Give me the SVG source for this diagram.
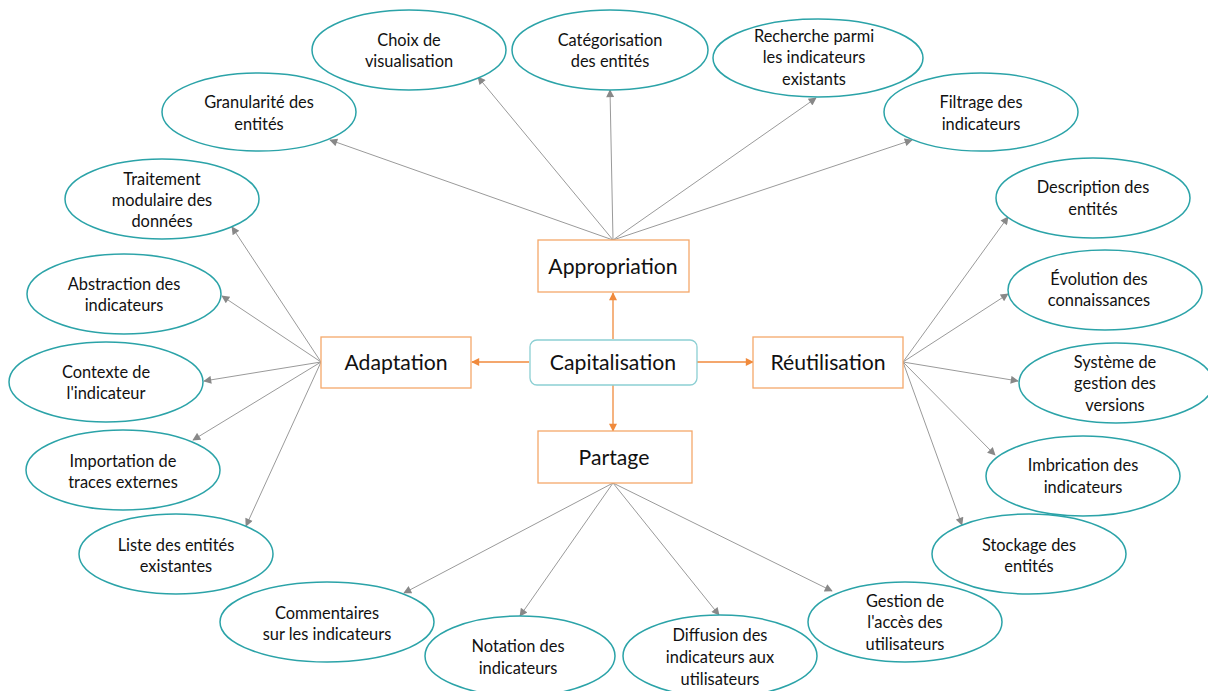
<svg xmlns="http://www.w3.org/2000/svg" width="1208" height="691" viewBox="0 0 1208 691">
<defs>
<style>
.e{fill:#fff;stroke:#2ba3a8;stroke-width:1.5}
.r{fill:#fff;stroke:#f5a86a;stroke-width:1.3}
.t{font-family:Lato,"Liberation Sans",sans-serif;font-size:16.4px;fill:#111;text-anchor:middle}
.T{font-family:Lato,"Liberation Sans",sans-serif;font-size:21.2px;fill:#111;text-anchor:middle}
.g{stroke:#9a9a9a;stroke-width:1;fill:none;marker-end:url(#ag)}
.o{stroke:#f08a3c;stroke-width:1.3;fill:none;marker-end:url(#ao)}
</style>
<marker id="ag" viewBox="0 0 10 10" refX="9" refY="5" markerWidth="10" markerHeight="8" markerUnits="userSpaceOnUse" orient="auto"><path d="M0,0L10,5L0,10z" fill="#888"/></marker>
<marker id="ao" viewBox="0 0 10 10" refX="9" refY="5" markerWidth="9" markerHeight="8" markerUnits="userSpaceOnUse" orient="auto"><path d="M0,0L10,5L0,10z" fill="#f08a3c"/></marker>
</defs>
<rect width="1208" height="691" fill="#fff"/>
<g id="connectors">
<line class="o" x1="613" y1="339" x2="613" y2="293"/>
<line class="o" x1="529" y1="362" x2="472" y2="362"/>
<line class="o" x1="697" y1="362" x2="753" y2="362"/>
<line class="o" x1="613" y1="385" x2="613" y2="431"/>
<line class="g" x1="613" y1="240" x2="330" y2="140"/>
<line class="g" x1="613" y1="240" x2="478" y2="77"/>
<line class="g" x1="613" y1="240" x2="610" y2="90"/>
<line class="g" x1="613" y1="240" x2="816" y2="98"/>
<line class="g" x1="613" y1="240" x2="912" y2="140"/>
<line class="g" x1="321" y1="362" x2="232" y2="227"/>
<line class="g" x1="321" y1="362" x2="222" y2="296"/>
<line class="g" x1="321" y1="362" x2="204" y2="381"/>
<line class="g" x1="321" y1="362" x2="193" y2="440"/>
<line class="g" x1="321" y1="362" x2="246" y2="526"/>
<line class="g" x1="903" y1="362" x2="1008" y2="217"/>
<line class="g" x1="903" y1="362" x2="1008" y2="294"/>
<line class="g" x1="903" y1="362" x2="1018" y2="381"/>
<line class="g" x1="903" y1="362" x2="995" y2="455"/>
<line class="g" x1="903" y1="362" x2="962" y2="525"/>
<line class="g" x1="613" y1="483" x2="404" y2="593"/>
<line class="g" x1="613" y1="483" x2="520" y2="616"/>
<line class="g" x1="613" y1="483" x2="719" y2="615"/>
<line class="g" x1="613" y1="483" x2="832" y2="591"/>
</g>
<g id="appropriation"><rect class="r" x="538" y="240" width="151" height="52"/><text class="T" x="613" y="274">Appropriation</text></g>
<g id="capitalisation"><rect x="530" y="340" width="167" height="45" rx="7" fill="#fff" stroke="#8ccfd3" stroke-width="1.3"/><text class="T" x="613" y="370">Capitalisation</text></g>
<g id="partage"><rect class="r" x="538" y="431" width="154" height="52"/><text class="T" x="614" y="465">Partage</text></g>
<g id="adaptation"><rect class="r" x="321" y="337" width="150" height="51"/><text class="T" x="396" y="370">Adaptation</text></g>
<g id="reutilisation"><rect class="r" x="753" y="337" width="150" height="51"/><text class="T" x="828" y="370">Réutilisation</text></g>
<g id="choix"><ellipse class="e" cx="409" cy="50" rx="97" ry="40"/><text class="t" x="409" y="46">Choix de</text><text class="t" x="409" y="67">visualisation</text></g>
<g id="categorisation"><ellipse class="e" cx="610" cy="50" rx="98" ry="40"/><text class="t" x="610" y="46">Catégorisation</text><text class="t" x="610" y="67">des entités</text></g>
<g id="recherche"><ellipse class="e" cx="818" cy="58" rx="105" ry="39"/><text class="t" x="814" y="42">Recherche parmi</text><text class="t" x="814" y="63">les indicateurs</text><text class="t" x="814" y="85">existants</text></g>
<g id="filtrage"><ellipse class="e" cx="981" cy="112" rx="97" ry="39"/><text class="t" x="981" y="108">Filtrage des</text><text class="t" x="981" y="130">indicateurs</text></g>
<g id="granularite"><ellipse class="e" cx="259" cy="112" rx="97" ry="39"/><text class="t" x="259" y="108">Granularité des</text><text class="t" x="259" y="130">entités</text></g>
<g id="traitement"><ellipse class="e" cx="162" cy="199" rx="97" ry="40"/><text class="t" x="162" y="185">Traitement</text><text class="t" x="162" y="206">modulaire des</text><text class="t" x="162" y="227">données</text></g>
<g id="abstraction"><ellipse class="e" cx="124" cy="294" rx="97" ry="40"/><text class="t" x="124" y="290">Abstraction des</text><text class="t" x="124" y="311">indicateurs</text></g>
<g id="contexte"><ellipse class="e" cx="106" cy="382" rx="97" ry="40"/><text class="t" x="106" y="378">Contexte de</text><text class="t" x="106" y="399">l'indicateur</text></g>
<g id="importation"><ellipse class="e" cx="123" cy="470" rx="97" ry="40"/><text class="t" x="123" y="467">Importation de</text><text class="t" x="123" y="488">traces externes</text></g>
<g id="liste"><ellipse class="e" cx="176" cy="554" rx="97" ry="40"/><text class="t" x="176" y="551">Liste des entités</text><text class="t" x="176" y="572">existantes</text></g>
<g id="commentaires"><ellipse class="e" cx="327" cy="622" rx="107" ry="40"/><text class="t" x="327" y="619">Commentaires</text><text class="t" x="327" y="640">sur les indicateurs</text></g>
<g id="notation"><ellipse class="e" cx="520" cy="656" rx="95" ry="40"/><text class="t" x="518" y="652">Notation des</text><text class="t" x="518" y="674">indicateurs</text></g>
<g id="diffusion"><ellipse class="e" cx="720" cy="656" rx="97" ry="41"/><text class="t" x="720" y="641">Diffusion des</text><text class="t" x="720" y="663">indicateurs aux</text><text class="t" x="720" y="685">utilisateurs</text></g>
<g id="gestion"><ellipse class="e" cx="905" cy="622" rx="97" ry="40"/><text class="t" x="905" y="607">Gestion de</text><text class="t" x="905" y="628">l'accès des</text><text class="t" x="905" y="650">utilisateurs</text></g>
<g id="stockage"><ellipse class="e" cx="1029" cy="554" rx="97" ry="40"/><text class="t" x="1029" y="551">Stockage des</text><text class="t" x="1029" y="572">entités</text></g>
<g id="imbrication"><ellipse class="e" cx="1083" cy="476" rx="97" ry="40"/><text class="t" x="1083" y="471">Imbrication des</text><text class="t" x="1083" y="493">indicateurs</text></g>
<g id="systeme"><ellipse class="e" cx="1116" cy="383" rx="97" ry="40"/><text class="t" x="1115" y="368">Système de</text><text class="t" x="1115" y="389">gestion des</text><text class="t" x="1115" y="411">versions</text></g>
<g id="evolution"><ellipse class="e" cx="1105" cy="290" rx="97" ry="40"/><text class="t" x="1099" y="285">Évolution des</text><text class="t" x="1099" y="306">connaissances</text></g>
<g id="description"><ellipse class="e" cx="1093" cy="198" rx="97" ry="40"/><text class="t" x="1093" y="193">Description des</text><text class="t" x="1093" y="215">entités</text></g>
</svg>
